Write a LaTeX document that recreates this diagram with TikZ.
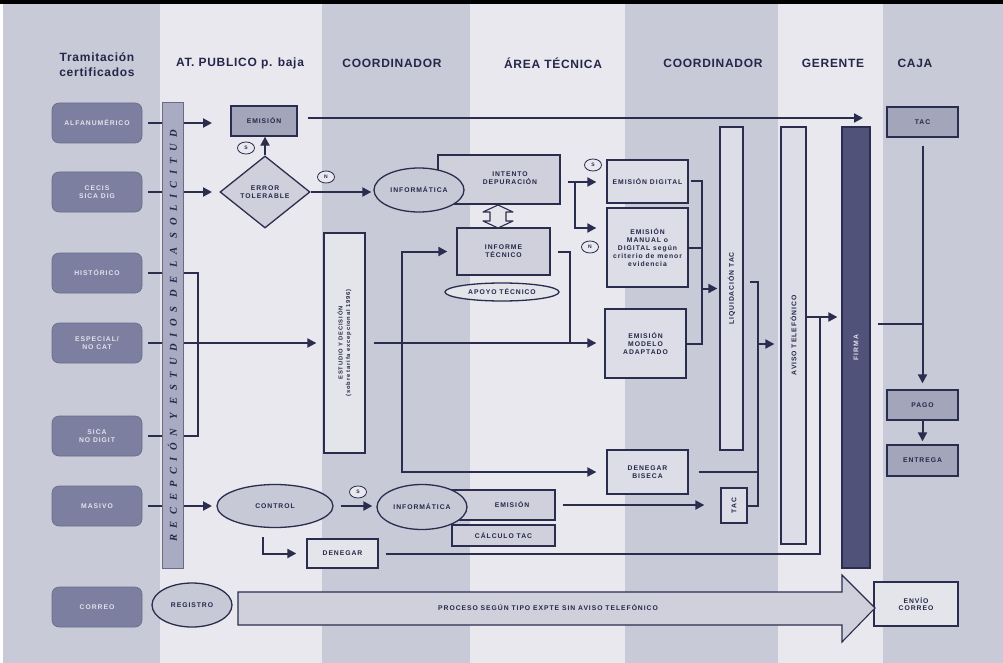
\documentclass[tikz,border=0pt]{standalone}
\usepackage{fontspec}
\setmainfont{Liberation Sans}
\newfontfamily\hdrfont[LetterSpace=6]{Liberation Sans}
\newfontfamily\smallfont[LetterSpace=14]{Liberation Sans}
\newfontfamily\barfont[LetterSpace=62]{Liberation Serif}
\usetikzlibrary{arrows.meta,shapes.geometric}

\definecolor{laneM}{HTML}{C8CAD8}
\definecolor{laneL}{HTML}{E8E8EE}
\definecolor{linec}{HTML}{2B2D4F}
\definecolor{txt}{HTML}{25274A}
\definecolor{srcfill}{HTML}{7C7F9F}
\definecolor{srctext}{HTML}{E2E3EC}
\definecolor{boxmid}{HTML}{A3A5BB}
\definecolor{boxsoft}{HTML}{CFD0DC}
\definecolor{boxlight}{HTML}{DCDDE6}
\definecolor{boxpale}{HTML}{E4E4EB}
\definecolor{barfill}{HTML}{A9ABC2}
\definecolor{ellfill}{HTML}{C7C9D7}
\definecolor{firmafill}{HTML}{50527A}

\tikzset{
  hdr/.style={font=\hdrfont\fontsize{12}{14}\selectfont\bfseries, text=txt, inner sep=0pt},
  ln/.style={draw=linec, line width=2pt},
  arr/.style={ln, -{Triangle[length=9pt,width=9pt]}},
  lbl/.style={font=\smallfont\fontsize{6.8}{7.8}\selectfont\bfseries, text=txt, align=center, inner sep=0pt},
  box/.style={lbl, draw=linec, line width=1.3pt, fill=boxlight, minimum width=#1},
  box/.default=80pt,
  src/.style={lbl, text=srctext, rounded corners=7pt, fill=srcfill, draw=srcfill!85!black,
    line width=0.6pt, minimum width=90pt, minimum height=40pt},
  oval/.style={lbl, ellipse, draw=linec, line width=1.3pt, fill=ellfill},
  tag/.style={ellipse, draw=linec, line width=0.8pt, fill=laneL, minimum width=17pt,
    minimum height=12pt, inner sep=0pt, font=\fontsize{5}{5}\selectfont\bfseries, text=txt},
  vbar/.style={draw=linec, line width=1.3pt, fill=boxlight, inner sep=0pt},
}

\begin{document}
\begin{tikzpicture}[x=1pt,y=-1pt]
\useasboundingbox (0,0) rectangle (1003,663);

% swim lanes
\fill[white] (0,0) rectangle (1003,663);
\fill[laneM] (3,4) rectangle (160,663);
\fill[laneL] (160,4) rectangle (322,663);
\fill[laneM] (322,4) rectangle (470,663);
\fill[laneL] (470,4) rectangle (625,663);
\fill[laneM] (625,4) rectangle (778,663);
\fill[laneL] (778,4) rectangle (883,663);
\fill[laneM] (883,4) rectangle (1003,663);
\fill[black] (0,0) rectangle (1003,4);

% lane headers
\node[hdr] (h1a) at (97,57) {Tramitación};
\node[hdr] (h1b) at (97,72) {certificados};
\node[hdr] (h2) at (240,63) {AT. PUBLICO p. baja};
\node[hdr] (h3) at (392,63) {COORDINADOR};
\node[hdr] (h4) at (553,63) {ÁREA TÉCNICA};
\node[hdr] (h5) at (713,63) {COORDINADOR};
\node[hdr] (h6) at (833,63) {GERENTE};
\node[hdr] (h7) at (915,63) {CAJA};

% certificate types
\node[src] (alfa) at (97,123) {ALFANUMÉRICO};
\node[src] (cecis) at (97,192) {CECIS\\SICA DIG};
\node[src] (histo) at (97,273) {HISTÓRICO};
\node[src] (espec) at (97,343) {ESPECIAL/\\NO CAT};
\node[src] (sica) at (97,436) {SICA\\NO DIGIT};
\node[src] (masivo) at (97,506) {MASIVO};
\node[src] (correo) at (97,607) {CORREO};

% public desk
\node[box=66pt, minimum height=30pt, fill=boxmid] (emis1) at (264,121) {EMISIÓN};
\node[lbl, diamond, draw=linec, line width=1.3pt, fill=boxsoft, minimum width=90pt,
  minimum height=72pt, aspect=1.25] (diam) at (265,192) {ERROR\\TOLERABLE};
\node[tag] (t1) at (246,148) {S};
\node[tag] (t2) at (326,177) {N};
\node[oval, minimum width=116pt, minimum height=43pt] (control) at (275,506) {CONTROL};
\node[box=71pt, minimum height=29pt, fill=boxpale] (denegar) at (342.5,553.5) {DENEGAR};
\node[oval, minimum width=80pt, minimum height=44pt] (registro) at (192,605) {REGISTRO};

% coordinator
\node[vbar, fill=boxpale, minimum width=41pt, minimum height=220pt] (estudio) at (344.5,343) {};
\node[lbl, rotate=90, font=\smallfont\fontsize{5.8}{7.5}\selectfont\bfseries] (estudiot) at (estudio.center)
  {ESTUDIO Y DECISIÓN\\(sobre tarifa excepcional 1996)};

% technical area
\node[box=122pt, minimum height=49pt, fill=boxsoft] (intento) at (499,179.5) {};
\node[lbl] (intentot) at (510,178) {INTENTO\\DEPURACIÓN};
\node[oval, minimum width=90pt, minimum height=44pt] (inf1) at (419,190) {INFORMÁTICA};
\node[box=93pt, minimum height=47pt, fill=boxsoft] (informe) at (503.5,251.5) {INFORME\\TÉCNICO};
\node[oval, minimum width=114pt, minimum height=18pt, fill=boxpale] (apoyo) at (502,292) {APOYO TÉCNICO};
\draw[line width=1.1pt, draw=linec, fill=boxpale, line join=round]
  (498,205) -- (483,212) -- (490,212) -- (490,221) -- (483,221) -- (498,228)
  -- (513,221) -- (506,221) -- (506,212) -- (513,212) -- cycle;

\node[box=110pt, minimum height=30pt, fill=boxsoft] (emis2) at (500,505) {};
\node[lbl] (emis2t) at (512,505) {EMISIÓN};
\node[oval, minimum width=90pt, minimum height=45pt] (inf2) at (422,507) {INFORMÁTICA};
\node[box=103pt, minimum height=21pt, fill=boxsoft] (calc) at (503.5,535.5) {CÁLCULO TAC};

% second coordinator
\node[box=81pt, minimum height=43pt] (digital) at (647.5,181.5) {EMISIÓN DIGITAL};
\node[box=81pt, minimum height=79pt] (manual) at (647.5,247.5)
  {EMISIÓN\\MANUAL o\\DIGITAL según\\criterio de menor\\evidencia};
\node[box=81pt, minimum height=69pt] (modelo) at (645.5,343.5) {EMISIÓN\\MODELO\\ADAPTADO};
\node[box=81pt, minimum height=44pt] (biseca) at (647.5,472) {DENEGAR\\BISECA};
\node[tag] (t3) at (593,165) {S};
\node[tag] (t4) at (590,247) {N};
\node[tag] (t5) at (358,492) {S};

\node[vbar, minimum width=23pt, minimum height=323pt] (liq) at (731.5,288.5) {};
\node[lbl, rotate=90] (liqt) at (liq.center) {LIQUIDACIÓN TAC};
\node[vbar, minimum width=26pt, minimum height=35pt] (tac2) at (734,505.5) {};
\node[lbl, rotate=90] (tac2t) at (tac2.center) {TAC};

% manager
\node[vbar, minimum width=25pt, minimum height=417pt] (aviso) at (793.5,335.5) {};
\node[lbl, rotate=90] (avisot) at (aviso.center) {AVISO TELEFÓNICO};
\node[vbar, fill=firmafill, minimum width=28pt, minimum height=441pt] (firma) at (856,347.5) {};
\node[lbl, rotate=90, text=srctext] (firmat) at (firma.center) {FIRMA};

% cash desk
\node[box=71pt, minimum height=30pt, fill=boxmid] (tac) at (922.5,122) {TAC};
\node[box=71pt, minimum height=30pt, fill=boxmid] (pago) at (922.5,405) {PAGO};
\node[box=71pt, minimum height=31pt, fill=boxmid] (entrega) at (922.5,460.5) {ENTREGA};
\node[box=84pt, minimum height=44pt, fill=boxpale] (envio) at (916,604) {ENVÍO\\CORREO};

% mail process arrow
\draw[draw=linec, line width=1.1pt, fill=boxsoft, line join=miter]
  (238,592) -- (842,592) -- (842,575) -- (875,608) -- (842,642) -- (842,625) -- (238,625) -- cycle;
\node[lbl] (proc) at (548,608) {PROCESO SEGÚN TIPO EXPTE SIN AVISO TELEFÓNICO};

% helper points
\coordinate (tipcol) at (212,0);
\coordinate (bk) at (198,0);
\coordinate (longtip) at (863,0);
\coordinate (br1) at (575,182);
\coordinate (br2) at (575,228);
\coordinate (jv) at (402,343);
\coordinate (jr) at (570,343);
\coordinate (bx1) at (702,0);
\coordinate (bx2) at (758,0);
\coordinate (fin) at (820,317);
\coordinate (cj) at (923,324);
\coordinate (cd) at (263,537);

% intake connectors
\draw[arr, shorten <=6pt] (alfa.east) -- (alfa.east -| tipcol);
\draw[arr, shorten <=6pt] (cecis.east) -- (cecis.east -| tipcol);
\draw[arr, shorten <=6pt] (masivo.east) -- (masivo.east -| tipcol);
\draw[ln, shorten <=6pt] (histo.east) -| (sica.east -| bk) -- ([xshift=6pt]sica.east);
\draw[arr, shorten <=6pt, shorten >=7pt] (espec.east) -- (espec.east -| estudio.west);

% reception bar over the intake lines
\node[draw=linec!70, line width=1pt, fill=barfill, minimum width=21pt, minimum height=465pt,
  inner sep=0pt] (recep) at (172.5,335.5) {};
\node[rotate=90, inner sep=0pt, text=txt, font=\barfont\fontsize{10.5}{11}\selectfont\bfseries\itshape]
  (recept) at (recep.center) {RECEPCIÓN Y ESTUDIOS DE LA SOLICITUD};

% public desk flows
\draw[arr] (diam.north) -- (diam.north |- emis1.south);
\draw[arr, shorten <=10pt] ([yshift=3pt]emis1.east) -- ([yshift=3pt]emis1.east -| longtip);
\draw[arr, shorten >=2pt] (diam.east) -- (diam.east -| inf1.west);
\draw[arr, shorten <=7pt, shorten >=4pt] (control.east) -- (control.east -| inf2.west);
\draw[arr, shorten >=10pt] (cd) |- (denegar.west);

% technical flows
\draw[ln, shorten <=7pt] (intento.east |- br1) -- (br1);
\draw[arr, shorten >=10pt] (br1) -- (br1 -| digital.west);
\draw[arr, shorten >=10pt] (br1) -- (br2) -- (br2 -| manual.west);
\draw[arr, shorten <=8pt, shorten >=8pt] (estudio.east) -- (estudio.east -| modelo.west);
\draw[arr, shorten >=9pt] (jv) |- (informe.west);
\draw[arr, shorten >=10pt] (jv) |- (biseca.west);
\draw[ln, shorten <=7pt] (informe.east) -| (jr);
\draw[arr, shorten <=7pt, shorten >=16pt] (emis2.east) -- (emis2.east -| tac2.west);

% settlement brackets
\draw[ln, shorten <=2pt] (digital.east) -| (bx1 |- modelo.east) -- (modelo.east);
\draw[ln] (manual.east) -- (manual.east -| bx1);
\draw[arr, shorten >=2pt] (bx1 |- liq.west) -- (liq.west);
\draw[ln, shorten <=6pt] ([yshift=6.5pt]liq.east) -| (bx2 |- tac2.east) -- (tac2.east);
\draw[ln, shorten <=10pt] (biseca.east) -- (biseca.east -| bx2);
\draw[arr, shorten >=6pt] (bx2 |- 0,344) -- ([yshift=-8.5pt]aviso.west);
\draw[ln, shorten <=7pt] (denegar.east) -| (fin);
\draw[arr, shorten >=4pt] (aviso.east |- fin) -- (fin -| firma.west);

% cash desk flows
\draw[ln, shorten <=7pt] (firma.east |- cj) -- (cj);
\draw[arr, shorten <=8pt, shorten >=6pt] (tac.south) -- (pago.north);
\draw[arr, shorten >=3pt] (pago.south) -- (entrega.north);
\end{tikzpicture}
\end{document}
